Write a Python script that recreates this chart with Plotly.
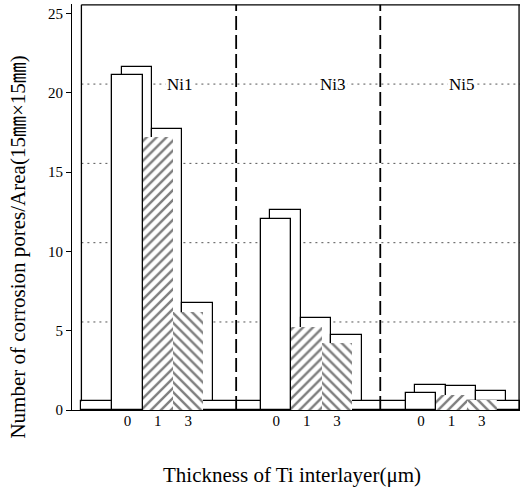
import plotly.graph_objects as go

# ---- data ----
thickness_labels = ["0", "1", "3"]          # Ti interlayer thickness (µm)
groups = ["Ni1", "Ni3", "Ni5"]
ni1 = [21.1, 17.2, 6.2]
ni3 = [12.05, 5.25, 4.2]
ni5 = [1.05, 0.95, 0.65]
values = [ni1, ni3, ni5]
y_ticks = [0, 5, 10, 15, 20, 25]
x_title = "Thickness of Ti interlayer(μm)"
y_title = "Number of corrosion pores/Area(15㎜×15㎜)"

# ---- layout constants (positions / styles) ----
group_x = [1.77, 6.52, 11.14]
bar_step = 0.97
bar_w = 0.97
dividers = [5.24, 9.84]
x_max = 14.3
dx, dy = 0.3, 0.55          # pseudo-3D back-plane offset
y_top = 25.55
label_x = [3.45, 8.34, 12.46]
FONT = "Liberation Serif, DejaVu Serif, Noto Sans CJK JP, serif"

centers = [[gx + i * bar_step for i in range(3)] for gx in group_x]

fig = go.Figure()

# back baseline strip
fig.add_trace(go.Bar(x=[(dx + x_max) / 2], y=[dy], width=[x_max - dx],
                     marker=dict(color="white", line=dict(color="black", width=1.2)),
                     showlegend=False, hoverinfo="skip"))

# back faces (offset outlines)
bx, by, bw = [], [], []
for g in range(3):
    for i in range(3):
        bx.append(centers[g][i] + dx)
        by.append(values[g][i])
        bw.append(bar_w)
fig.add_trace(go.Bar(x=bx, y=by, base=[dy] * len(by), width=bw,
                     marker=dict(color="white", line=dict(color="black", width=1.2)),
                     showlegend=False, hoverinfo="skip"))

# front faces
patterns = ["", "/", "\\"]
for i in range(3):
    xs = [centers[g][i] for g in range(3)]
    ys = [values[g][i] for g in range(3)]
    if patterns[i] == "":
        marker = dict(color="white", line=dict(color="black", width=1.3))
    else:
        marker = dict(color="white", line=dict(color="white", width=0),
                      pattern=dict(shape=patterns[i], fgcolor="black", bgcolor="white",
                                   size=7, solidity=0.35, fillmode="overlay"))
    fig.add_trace(go.Bar(x=xs, y=ys, width=[bar_w] * 3, marker=marker,
                         showlegend=False, hoverinfo="skip"))

shapes = []
# dotted grid on back wall
for v in y_ticks[1:-1]:
    shapes.append(dict(type="line", xref="x", yref="y", x0=dx, x1=x_max, y0=v + dy, y1=v + dy,
                       line=dict(color="#555", width=1, dash="2px,4px"), layer="below"))
# back wall frame
shapes.append(dict(type="line", xref="x", yref="y", x0=dx, x1=dx, y0=dy, y1=y_top,
                   line=dict(color="black", width=1.3)))
shapes.append(dict(type="line", xref="x", yref="y", x0=dx, x1=x_max, y0=y_top, y1=y_top,
                   line=dict(color="black", width=1.3)))
shapes.append(dict(type="line", xref="x", yref="y", x0=x_max - 0.03, x1=x_max - 0.03, y0=0, y1=y_top,
                   line=dict(color="black", width=1.3)))
# dashed dividers
for d in dividers:
    shapes.append(dict(type="line", xref="x", yref="y", x0=d, x1=d, y0=0, y1=y_top,
                       line=dict(color="black", width=1.8, dash="14px,5px")))

annotations = [dict(x=lx, y=20 + dy, text=g, showarrow=False, xref="x", yref="y",
                    bgcolor="white", font=dict(family=FONT, size=17, color="black"))
               for lx, g in zip(label_x, groups)]
# axis titles as annotations (precise placement)
annotations.append(dict(text=x_title, xref="paper", yref="paper", x=0.49, y=0,
                        yshift=-65, showarrow=False, yanchor="middle",
                        font=dict(family=FONT, size=21, color="black")))
annotations.append(dict(text=y_title, xref="paper", yref="paper", x=0, y=0.40,
                        xshift=-54, showarrow=False, textangle=-90, xanchor="center",
                        font=dict(family=FONT, size=21, color="black")))

tickvals = [c for row in centers for c in row]
ticktext = thickness_labels * 3

fig.update_layout(
    width=525, height=490,
    margin=dict(l=72, r=5, t=4, b=80),
    plot_bgcolor="white", paper_bgcolor="white",
    barmode="overlay", bargap=0,
    shapes=shapes, annotations=annotations,
    font=dict(family=FONT, color="black"),
    xaxis=dict(range=[0, x_max], showgrid=False, zeroline=False, automargin=False,
               showline=True, linecolor="black", linewidth=1.2,
               tickvals=tickvals, ticktext=ticktext, ticks="",
               ticklabelstandoff=-3,
               tickfont=dict(family=FONT, size=15)),
    yaxis=dict(range=[0, 25.6], showgrid=False, zeroline=False, automargin=False,
               showline=True, linecolor="black", linewidth=1.2,
               tickvals=y_ticks, ticks="outside", ticklen=5, tickcolor="black",
               tickfont=dict(family=FONT, size=15)),
)

fig.write_html("out.html", post_script="document.body.style.margin='0';",
               config={"displayModeBar": False})
